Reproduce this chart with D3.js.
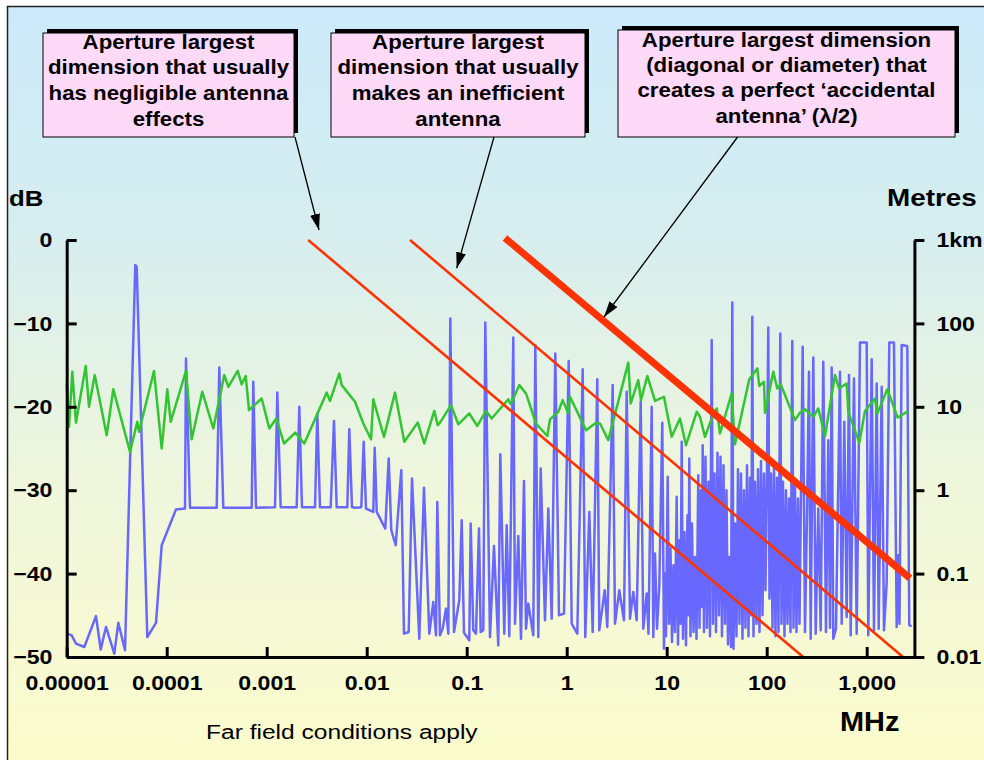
<!DOCTYPE html>
<html lang="en">
<head>
<meta charset="UTF-8">
<title>Aperture size and antenna effects</title>
<script src="https://d3js.org/d3.v7.min.js"></script>
<style>
  body { margin: 0; background: #fff; }
  svg { display: block; font-family: 'Liberation Sans', Arial, sans-serif; }
  .axis path, .axis line { stroke: #000; stroke-width: 3; }
  .axis text { font-weight: bold; font-size: 21px; fill: #000; font-family: 'Liberation Sans', Arial, sans-serif; }
  .box text { font-weight: bold; font-size: 21px; fill: #000; }
</style>
</head>
<body>
<svg width="984" height="760"></svg>
<script>
// ---- data ----
var freqTicks = [1e-5, 1e-4, 1e-3, 0.01, 0.1, 1, 10, 100, 1000];
var freqLabels = ["0.00001", "0.0001", "0.001", "0.01", "0.1", "1", "10", "100", "1,000"];
var dbTicks = [0, -10, -20, -30, -40, -50];
var metreTicks = [1000, 100, 10, 1, 0.1, 0.01];
var metreLabels = ["1km", "100", "10", "1", "0.1", "0.01"];

// [log10(MHz), dB]
var bluePoints = [
  [-4.994,-47.2],[-4.95,-47.4],[-4.907,-48.4],[-4.824,-48.8],[-4.707,-45.1],[-4.66,-49.1],[-4.607,-46.4],
  [-4.524,-49.6],[-4.484,-45.9],[-4.417,-49.2],[-4.314,-3.0],[-4.30,-3.2],[-4.194,-47.6],[-4.107,-45.9],
  [-4.05,-36.6],[-3.907,-32.3],[-3.817,-32.2],[-3.807,-14.2],[-3.767,-32.1],[-3.5,-32.1],[-3.474,-15.3],
  [-3.434,-32.1],[-3.15,-32.1],[-3.134,-17.0],[-3.107,-32.1],[-2.917,-32.05],[-2.894,-18.3],[-2.86,-32.05],
  [-2.70,-32.05],[-2.674,-20.0],[-2.647,-32.05],[-2.517,-32.05],[-2.494,-20.8],[-2.467,-32.05],[-2.36,-32.05],
  [-2.327,-21.7],[-2.30,-32.05],[-2.194,-32.05],[-2.174,-22.7],[-2.147,-32.05],[-2.107,-32.1],[-2.054,-32.05],
  [-2.03,-24.2],[-2.007,-32.2],[-1.934,-32.6],[-1.92,-24.9],[-1.90,-32.6],[-1.814,-34.6],[-1.78,-26.2],
  [-1.754,-34.8],[-1.71,-36.6],[-1.654,-27.6],[-1.627,-47.2],[-1.58,-47.0],[-1.547,-28.6],[-1.474,-47.8],
  [-1.427,-29.7],[-1.374,-47.2],[-1.334,-43.4],[-1.307,-47.4],[-1.294,-31.4],[-1.267,-47.4],[-1.24,-46.6],
  [-1.207,-44.2],[-1.184,-47.2],[-1.164,-9.4],[-1.127,-47.0],[-1.074,-43.2],[-1.05,-33.6],[-1.027,-47.1],
  [-0.974,-48.0],[-0.96,-34.0],[-0.934,-46.8],[-0.907,-47.2],[-0.877,-34.6],[-0.86,-47.0],[-0.834,-46.8],
  [-0.814,-9.9],[-0.767,-47.6],[-0.727,-36.7],[-0.684,-48.6],[-0.664,-25.7],[-0.624,-47.2],[-0.60,-34.2],
  [-0.574,-47.5],[-0.534,-11.7],[-0.517,-46.0],[-0.484,-35.5],[-0.457,-47.8],[-0.427,-28.9],[-0.407,-46.6],
  [-0.384,-43.6],[-0.334,-47.4],[-0.314,-12.6],[-0.284,-47.6],[-0.26,-27.4],[-0.217,-45.6],[-0.184,-32.2],
  [-0.15,-45.4],[-0.114,-13.6],[-0.077,-45.0],[-0.027,-44.8],[0.02,-14.5],[0.05,-46.0],[0.106,-47.2],
  [0.16,-15.5],[0.186,-47.6],[0.226,-32.6],[0.26,-47.0],[0.306,-16.7],[0.326,-46.8],[0.38,-42.0],
  [0.406,-46.4],[0.46,-17.4],[0.483,-46.0],[0.526,-42.0],[0.573,-45.6],[0.60,-18.2],[0.633,-45.4],
  [0.666,-42.2],[0.70,-45.6],[0.74,-19.4],[0.766,-46.6],[0.80,-42.4],[0.818,-47.2],[0.85,-20.0],
  [0.866,-47.6],[0.883,-37.6],[0.903,-46.6],[0.926,-41.5],[0.956,-21.9],[0.973,-49.0],
  [0.983,-40],[0.993,-47.5],[1.01,-28.4],[1.023,-46],[1.038,-37],[1.053,-48.2],[1.068,-39],[1.083,-47],
  [1.10,-30.8],[1.113,-48.5],[1.128,-36],[1.138,-46],[1.15,-24.2],[1.163,-47.8],[1.178,-35],[1.193,-48.6],
  [1.208,-33],[1.218,-45],[1.226,-26.2],[1.238,-47.5],[1.253,-34],[1.268,-47],[1.283,-38],[1.298,-47.8],
  [1.316,-28.2],[1.328,-46.5],[1.343,-30],[1.352,-44],[1.36,-24.6],[1.373,-47],[1.388,-26],[1.403,-46.5],
  [1.418,-29],[1.433,-47.5],[1.45,-12],[1.463,-46],[1.478,-28],[1.493,-47],[1.508,-25.5],[1.523,-45],
  [1.538,-26],[1.553,-47.5],[1.568,-27],[1.583,-46],[1.598,-30],[1.613,-48.5],[1.628,-38],[1.643,-48.8],
  [1.656,-7.5],[1.668,-49],[1.683,-34],[1.698,-47.5],[1.713,-27.5],[1.728,-46],[1.743,-28],[1.758,-47.8],
  [1.773,-30],[1.788,-46.5],[1.803,-27],[1.818,-47.5],[1.833,-28.5],[1.846,-45],[1.856,-9.2],[1.868,-47.5],
  [1.883,-29],[1.898,-46],[1.913,-27.5],[1.928,-47],[1.943,-26.5],[1.958,-45],[1.973,-28],[1.988,-42],
  [2.003,-27.5],[2.016,-10.5],[2.028,-43],[2.043,-28],[2.058,-46.5],[2.073,-27],[2.088,-47.5],[2.103,-28.5],
  [2.118,-47],[2.136,-11.2],[2.148,-46],[2.163,-29],[2.178,-47.5],[2.193,-30],[2.208,-46],[2.223,-31],
  [2.238,-47],[2.256,-12.1],[2.268,-46.5],[2.283,-29.5],[2.298,-47],[2.313,-31],[2.328,-46],
  [2.36,-12.8],[2.383,-47],[2.403,-33],[2.423,-15.8],[2.44,-47.8],[2.466,-14.1],[2.49,-47.2],[2.516,-32.2],
  [2.54,-46.8],[2.566,-14.6],[2.593,-47],[2.616,-24],[2.633,-46.5],[2.65,-15.3],[2.666,-47.8],[2.693,-46.6],
  [2.733,-15.8],[2.75,-46],[2.776,-21.8],[2.80,-45.2],[2.823,-16.2],[2.84,-47.4],[2.873,-16.6],[2.90,-47.2],
  [2.933,-12.3],[3.0,-12.3],[3.016,-47.4],[3.05,-14.3],[3.073,-46.8],[3.10,-17.2],[3.12,-46.6],[3.15,-17.6],
  [3.173,-46.8],[3.20,-41],[3.226,-12.3],[3.273,-12.3],[3.30,-46.4],[3.313,-37.8],[3.328,-46],[3.35,-12.6],
  [3.406,-12.7],[3.426,-46.2],[3.45,-46.3]
];

// [log10(MHz), dB]
var greenPoints = [
  [-5.0,-17.2],[-4.977,-22.4],[-4.944,-15.8],[-4.907,-21.9],[-4.81,-15.1],[-4.777,-20.0],[-4.72,-16.2],
  [-4.60,-23.4],[-4.534,-17.9],[-4.367,-25.4],[-4.294,-21.8],[-4.277,-23.0],[-4.127,-15.7],[-4.05,-25.0],
  [-3.994,-17.9],[-3.96,-21.8],[-3.807,-15.7],[-3.75,-23.9],[-3.644,-18.2],[-3.534,-22.6],[-3.424,-16.2],
  [-3.384,-17.6],[-3.29,-15.7],[-3.25,-17.3],[-3.21,-16.3],[-3.177,-20.4],[-3.05,-19.0],[-2.974,-22.6],
  [-2.904,-21.4],[-2.827,-24.4],[-2.714,-23.1],[-2.624,-24.4],[-2.40,-18.3],[-2.367,-19.3],[-2.274,-16.0],
  [-2.25,-17.4],[-2.117,-19.4],[-2.034,-22.0],[-1.957,-23.9],[-1.934,-19.1],[-1.827,-23.6],[-1.717,-18.3],
  [-1.624,-24.2],[-1.49,-21.9],[-1.424,-24.4],[-1.324,-20.5],[-1.29,-22.2],[-1.267,-21.9],[-1.157,-19.8],
  [-1.084,-22.1],[-0.974,-20.8],[-0.894,-22.3],[-0.807,-20.5],[-0.75,-21.4],[-0.584,-19.1],[-0.56,-19.7],
  [-0.474,-17.4],[-0.407,-18.4],[-0.307,-22.0],[-0.194,-23.5],[-0.167,-21.5],[-0.084,-20.6],[-0.04,-19.2],
  [0.016,-20.8],[0.033,-18.8],[0.193,-22.8],[0.283,-22.0],[0.333,-22.0],[0.416,-24.0],[0.616,-14.7],
  [0.64,-19.6],[0.716,-16.8],[0.743,-19.2],[0.806,-16.3],[0.883,-19.3],[0.973,-18.8],[1.05,-23.6],
  [1.133,-21.4],[1.193,-24.6],[1.30,-20.6],[1.333,-21.2],[1.383,-23.6],[1.45,-21.4],[1.50,-20.2],
  [1.533,-23.2],[1.65,-18.4],[1.683,-24.5],[1.826,-16.7],[1.906,-15.4],[1.926,-17.5],[1.973,-17.0],
  [1.983,-20.7],[2.066,-15.8],[2.106,-17.8],[2.14,-17.3],[2.283,-21.6],[2.333,-20.7],[2.383,-20.3],
  [2.466,-21.2],[2.516,-20.2],[2.583,-23.5],[2.683,-16.2],[2.723,-17.8],[2.80,-17.2],[2.816,-20.6],
  [2.926,-24.3],[2.983,-20.5],[3.083,-19.0],[3.106,-20.8],[3.206,-17.9],[3.31,-21.3],[3.416,-20.5]
];

// aperture size lines: metres against MHz (right hand scale)
var apertureFreqStart = [0.0026, 0.0271, 0.2415];
var apertureFreqEnd = [232, 2307, 2710];
var apertureMetreStart = [1000, 1000, 1057];
var apertureMetreEnd = [0.01, 0.01, 0.088];

var boxLines = [
  ["Aperture largest", "dimension that usually", "has negligible antenna", "effects"],
  ["Aperture largest", "dimension that usually", "makes an inefficient", "antenna"],
  ["Aperture largest dimension", "(diagonal or diameter) that", "creates a perfect \u2018accidental", "antenna\u2019 (\u03bb/2)"]
];

// ---- drawing ----
var svg = d3.select("svg");
var defs = svg.append("defs");

var grad = defs.append("linearGradient").attr("id", "bg")
  .attr("x1", 0).attr("y1", 0).attr("x2", 0).attr("y2", 1);
grad.append("stop").attr("offset", 0).attr("stop-color", "#cbeafa");
grad.append("stop").attr("offset", 0.3).attr("stop-color", "#d7eeef");
grad.append("stop").attr("offset", 0.62).attr("stop-color", "#eff6dc");
grad.append("stop").attr("offset", 1).attr("stop-color", "#fcfccb");

defs.append("marker").attr("id", "head")
  .attr("markerUnits", "userSpaceOnUse")
  .attr("viewBox", "0 0 16 10").attr("refX", 16).attr("refY", 5)
  .attr("markerWidth", 16).attr("markerHeight", 10)
  .attr("orient", "auto")
  .append("path").attr("d", "M0,0 L16,5 L0,10 Z").attr("fill", "#000");

svg.append("rect")
  .attr("x", 7.5).attr("y", 6.5).attr("width", 990).attr("height", 770)
  .attr("fill", "url(#bg)").attr("stroke", "#222").attr("stroke-width", 1.5);

var x = d3.scaleLog().domain([1e-5, 3000]).range([66.7, 914.4]);
var yDb = d3.scaleLinear().domain([-50, 0]).range([657, 240]);
var yM = d3.scaleLog().domain([0.01, 1000]).range([657, 240]);

var line = d3.line()
  .x(function (d) { return x(Math.pow(10, d[0])); })
  .y(function (d) { return yDb(d[1]); });

svg.append("path").datum(bluePoints)
  .attr("d", line).attr("fill", "none")
  .attr("stroke", "#6868ff").attr("stroke-width", 2.5).attr("stroke-linejoin", "round");

svg.append("path").datum(greenPoints)
  .attr("d", line).attr("fill", "none")
  .attr("stroke", "#33c433").attr("stroke-width", 2.5).attr("stroke-linejoin", "round");

var redWidths = [2.6, 2.6, 7];
apertureFreqStart.forEach(function (f, i) {
  svg.append("line")
    .attr("x1", x(f)).attr("y1", yM(apertureMetreStart[i]))
    .attr("x2", x(apertureFreqEnd[i])).attr("y2", yM(apertureMetreEnd[i]))
    .attr("stroke", "#ff3300").attr("stroke-width", redWidths[i]);
});

// axes
var axisLeft = d3.axisLeft(yDb).tickValues(dbTicks).tickSizeInner(-10).tickSizeOuter(0).tickPadding(13);
var axisBottom = d3.axisBottom(x).tickValues(freqTicks)
  .tickFormat(function (d, i) { return freqLabels[i]; })
  .tickSizeInner(-10).tickSizeOuter(0).tickPadding(18);
var axisRight = d3.axisRight(yM).tickValues(metreTicks)
  .tickFormat(function (d, i) { return metreLabels[i]; })
  .tickSizeInner(10).tickSizeOuter(0).tickPadding(10);

var gl = svg.append("g").attr("class", "axis").attr("transform", "translate(66.7,0)").call(axisLeft);
var gb = svg.append("g").attr("class", "axis").attr("transform", "translate(0,657)").call(axisBottom);
var gr = svg.append("g").attr("class", "axis").attr("transform", "translate(914.4,0)").call(axisRight);
[gl, gb, gr].forEach(function (g) {
  g.selectAll("text").attr("transform", "scale(1.1,1)");
});

// the lettering in the original is drawn a little wider than Liberation Sans
function label(tx, ty, str, size, weight, stretch, anchor) {
  return svg.append("text")
    .attr("transform", "translate(" + tx + "," + ty + ") scale(" + stretch + ",1)")
    .attr("font-size", size).attr("font-weight", weight)
    .attr("text-anchor", anchor || "start").text(str);
}

label(9, 206, "dB", 23, "bold", 1.12);
label(887, 206, "Metres", 24, "bold", 1.16);
label(840, 731, "MHz", 27, "bold", 1.07);
label(206, 739, "Far field conditions apply", 21, "normal", 1.17);

// annotation boxes
var boxes = [
  {x: 43, y: 33, w: 251, h: 104, baselines: [48.5, 74, 99.5, 125.5]},
  {x: 331, y: 33, w: 254, h: 104, baselines: [48.5, 74, 99.5, 125.5]},
  {x: 618, y: 30, w: 337, h: 107, baselines: [47, 72, 97, 122.5]}
];
var arrows = [
  {x1: 295, y1: 137, x2: 319, y2: 230},
  {x1: 494, y1: 137, x2: 456.7, y2: 268.3},
  {x1: 737.6, y1: 137, x2: 604, y2: 317}
];

arrows.forEach(function (a) {
  svg.append("line")
    .attr("x1", a.x1).attr("y1", a.y1).attr("x2", a.x2).attr("y2", a.y2)
    .attr("stroke", "#000").attr("stroke-width", 1.3)
    .attr("marker-end", "url(#head)");
});

boxes.forEach(function (b, i) {
  var g = svg.append("g").attr("class", "box");
  g.append("rect").attr("x", b.x + 4).attr("y", b.y - 4).attr("width", b.w).attr("height", b.h)
    .attr("fill", "#000");
  g.append("rect").attr("x", b.x).attr("y", b.y).attr("width", b.w).attr("height", b.h)
    .attr("fill", "#ffd9f8").attr("stroke", "#000").attr("stroke-width", 1);
  boxLines[i].forEach(function (t, j) {
    g.append("text")
      .attr("transform", "translate(" + (b.x + b.w / 2) + "," + b.baselines[j] + ") scale(1.06,1)")
      .attr("text-anchor", "middle").text(t);
  });
});
</script>
</body>
</html>
